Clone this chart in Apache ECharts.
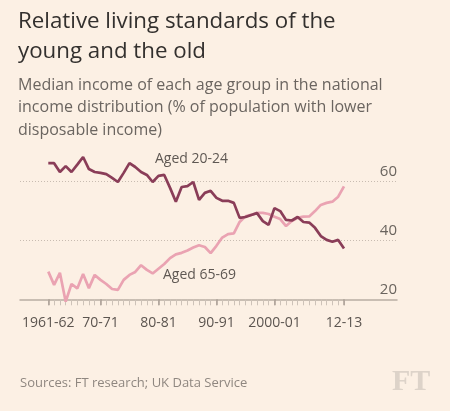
<!DOCTYPE html>
<html>
<head>
<meta charset="utf-8">
<script src="https://cdn.jsdelivr.net/npm/echarts@6/dist/echarts.min.js"></script>
<style>
  html, body { margin: 0; padding: 0; background: #fcf0e4; }
  #chart { width: 450px; height: 411px; }
</style>
</head>
<body>
<div id="chart"></div>
<script>
// financial years 1961-62 .. 2012-13
var seasons = ['1961-62','62-63','63-64','64-65','65-66','66-67','67-68','68-69','69-70','70-71',
    '71-72','72-73','73-74','74-75','75-76','76-77','77-78','78-79','79-80','80-81',
    '81-82','82-83','83-84','84-85','85-86','86-87','87-88','88-89','89-90','90-91',
    '91-92','92-93','93-94','94-95','95-96','96-97','97-98','98-99','99-00','2000-01',
    '01-02','02-03','03-04','04-05','05-06','06-07','07-08','08-09','09-10','10-11',
    '11-12','12-13'];
var shownLabels = ['1961-62','70-71','80-81','90-91','2000-01','12-13'];

// median income percentile, aged 20-24
var aged2024 = [66.3,66.3,63.3,65.3,63.3,65.8,68.4,64.3,63.3,63.0,
    62.6,61.3,59.9,63.0,66.3,65.0,63.3,62.3,59.9,62.0,
    62.3,57.9,53.2,58.2,58.5,59.9,53.8,56.2,56.9,54.5,
    53.5,53.5,52.8,47.7,48.0,48.7,49.3,46.6,45.3,51.0,
    50.0,47.0,46.8,48.0,46.3,46.1,44.3,41.5,40.2,39.6,
    40.2,37.3];
// median income percentile, aged 65-69
var aged6569 = [29.4,24.9,29.0,19.2,25.2,23.7,28.6,23.8,28.3,26.6,
    25.2,23.5,23.2,26.6,28.3,29.3,31.6,30.0,28.8,30.4,
    32.0,34.0,35.3,35.8,36.6,37.6,38.4,37.8,35.7,38.2,
    41.0,42.2,42.4,46.3,48.2,48.7,49.4,49.4,49.0,48.1,
    47.3,44.9,46.6,47.7,48.1,48.2,50.0,52.1,52.8,53.2,
    54.9,58.4];

var yTicks = [20, 40, 60];

var FONT = '"Open Sans", sans-serif';
var chart = echarts.init(document.getElementById('chart'));

function isShown(index, value) {
    return shownLabels.indexOf(seasons[index]) >= 0;
}

var option = {
    animation: false,
    backgroundColor: '#fcf0e4',
    title: [
        {
            text: 'Relative living standards of the\nyoung and the old',
            left: 18, top: 7, padding: 0,
            textStyle: { fontFamily: FONT, fontSize: 22.3, fontWeight: 'normal', lineHeight: 30, color: '#33302e' }
        },
        {
            text: 'Median income of each age group in the national\nincome distribution (% of population with lower\ndisposable income)',
            left: 18, top: 74, padding: 0,
            textStyle: { fontFamily: FONT, fontSize: 16, fontWeight: 'normal', lineHeight: 22.5, color: '#6b6560' }
        },
        {
            text: 'Sources: FT research; UK Data Service',
            left: 20, top: 375, padding: 0,
            textStyle: { fontFamily: FONT, fontSize: 13, fontWeight: 'normal', lineHeight: 16, color: '#8f8780' }
        }
    ],
    graphic: [
        { type: 'text', left: 155, top: 152, style: { text: 'Aged 20-24', font: '14px ' + FONT, fill: '#5f5853' } },
        { type: 'text', left: 163, top: 268, style: { text: 'Aged 65-69', font: '14px ' + FONT, fill: '#5f5853' } },
        { type: 'text', left: 392, top: 367, style: { text: 'FT', font: 'bold 30px "Liberation Serif", serif', fill: '#ddd3c9' } }
    ],
    grid: [
        { left: 20, right: 53, top: 152.3, bottom: 111.7 },
        { left: 48.3, right: 106, top: 152.3, bottom: 111.7 }
    ],
    xAxis: [
        {
            gridIndex: 0, type: 'value', min: 0, max: 1,
            axisLine: { show: true, lineStyle: { color: '#b8ada3', width: 1.5 } },
            axisTick: { show: false }, axisLabel: { show: false }, splitLine: { show: false }
        },
        {
            gridIndex: 1, type: 'category', data: seasons, boundaryGap: false, position: 'bottom',
            axisLine: { show: false },
            axisTick: { show: true, interval: 0, length: 6, lineStyle: { color: '#cdc2b8', width: 1 } },
            axisLabel: { interval: isShown, margin: 17, fontFamily: FONT, fontSize: 14, color: '#5c5550' },
            splitLine: { show: false }
        },
        {
            gridIndex: 1, type: 'category', data: seasons, boundaryGap: false, position: 'bottom',
            axisLine: { show: false },
            axisTick: { show: true, interval: isShown, length: 6, lineStyle: { color: '#aa9f95', width: 1.5 } },
            axisLabel: { show: false },
            splitLine: { show: false }
        }
    ],
    yAxis: [
        {
            gridIndex: 0, type: 'value', position: 'right', min: yTicks[0], max: 70, interval: 20,
            axisLine: { show: false }, axisTick: { show: false },
            splitLine: { show: true, showMinLine: false, showMaxLine: false,
                lineStyle: { color: '#c8bcb1', width: 1, type: [1, 2] } },
            axisLabel: {
                inside: true, margin: 0, verticalAlign: 'bottom', padding: [0, 0, 2, 0],
                showMaxLabel: false, fontFamily: FONT, fontSize: 15, color: '#6a645e'
            }
        },
        { gridIndex: 1, type: 'value', min: yTicks[0], max: 70, show: false }
    ],
    series: [
        {
            name: 'Aged 65-69', type: 'line', xAxisIndex: 1, yAxisIndex: 1,
            data: aged6569, symbol: 'none', clip: false,
            lineStyle: { color: '#eaa3b2', width: 2.7 }
        },
        {
            name: 'Aged 20-24', type: 'line', xAxisIndex: 1, yAxisIndex: 1,
            data: aged2024, symbol: 'none', clip: false,
            lineStyle: { color: '#8a3d58', width: 2.7 }
        }
    ]
};

chart.setOption(option);
</script>
</body>
</html>
